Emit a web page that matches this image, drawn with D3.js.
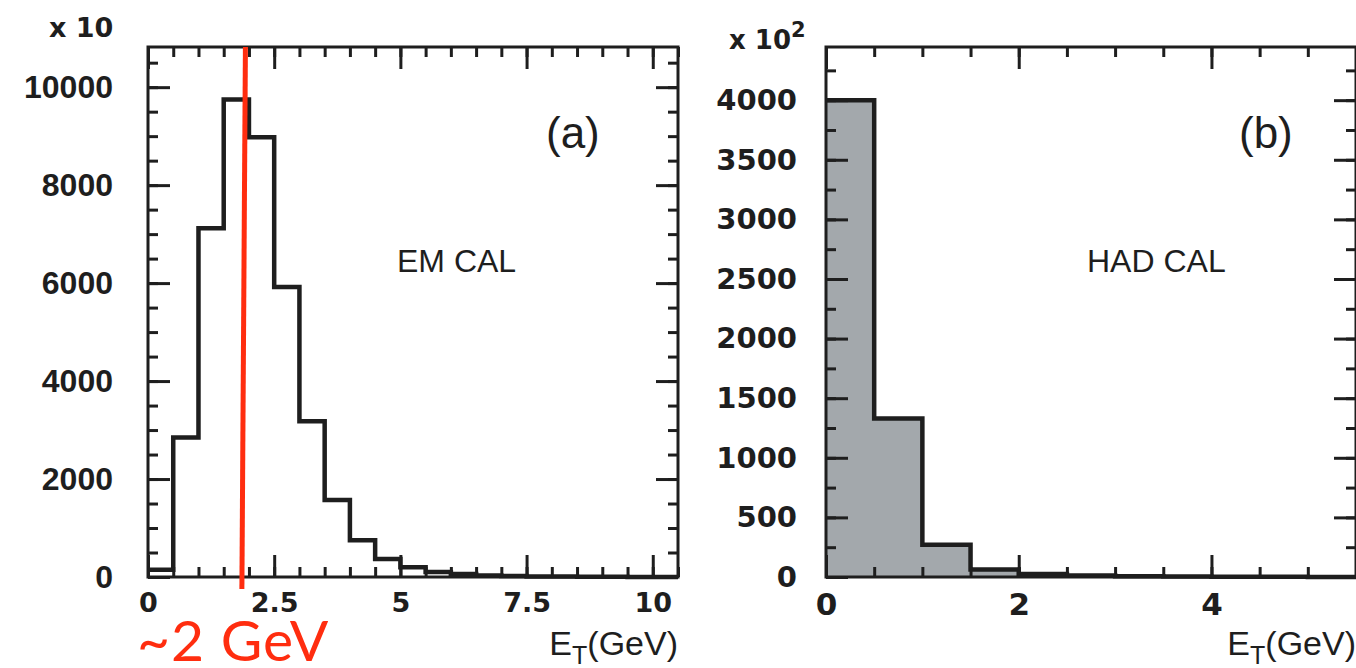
<!DOCTYPE html>
<html>
<head>
<meta charset="utf-8">
<script src="https://cdn.jsdelivr.net/npm/d3@7"></script>
<style>
  body { margin: 0; background: #fff; }
  svg { display: block; }
  .frame { fill: none; stroke: #1e1e1e; stroke-width: 3; }
  .tick line { stroke: #1e1e1e; stroke-width: 3; }
</style>
</head>
<body>
<script>
// bin width 0.5 GeV, counts
var emEdges = [0, 0.5, 1, 1.5, 2, 2.5, 3, 3.5, 4, 4.5, 5, 5.5, 6, 6.5, 7, 7.5, 8, 8.5, 9, 9.5, 10, 10.5];
var emCounts = [150, 2850, 7120, 9750, 8980, 5920, 3180, 1570, 750, 370, 200, 100, 60, 30, 20, 10, 8, 5, 4, 2, 1];

var hadEdges = [0, 0.5, 1, 1.5, 2, 2.5, 3, 3.5, 4, 4.5, 5, 5.5];
var hadCounts = [4000, 1330, 270, 62, 25, 12, 6, 4, 3, 2, 1];

var emYMajor = [0, 2000, 4000, 6000, 8000, 10000];
var emXMajor = [0, 2.5, 5, 7.5, 10];
var emXLabels = ["0", "2.5", "5", "7.5", "10"];
var hadYMajor = [0, 500, 1000, 1500, 2000, 2500, 3000, 3500, 4000];
var hadXMajor = [0, 2, 4];

var cutValue = [1.93, 1.86]; // red line, slightly tilted top -> bottom

var svg = d3.select("body").append("svg")
    .attr("width", 1356)
    .attr("height", 668);

function range(a, b, step) {
  var out = [];
  for (var v = a; v <= b + 1e-9; v += step) out.push(+v.toFixed(4));
  return out;
}

function drawPanel(p) {
  var x = d3.scaleLinear().domain(p.xDomain).range([p.left, p.right]);
  var y = d3.scaleLinear().domain(p.yDomain).range([p.bottom, p.top]);
  var g = svg.append("g");

  // histogram
  var pts = p.counts.map(function(c, i) { return [p.edges[i], c]; });
  pts.push([p.edges[p.edges.length - 1], p.counts[p.counts.length - 1]]);
  var step = d3.line()
    .x(function(d) { return x(d[0]); })
    .y(function(d) { return y(d[1]); })
    .curve(d3.curveStepAfter);

  if (p.fill) {
    var area = d3.area()
      .x(function(d) { return x(d[0]); })
      .y0(y(0))
      .y1(function(d) { return y(d[1]); })
      .curve(d3.curveStepAfter);
    g.append("path").attr("d", area(pts)).attr("fill", p.fill);
  }
  g.append("path")
    .attr("d", step(pts))
    .attr("fill", "none")
    .attr("stroke", "#1e1e1e")
    .attr("stroke-width", 4.5)
    .attr("stroke-linejoin", "miter");

  // ticks on all four sides, pointing inward
  var xMinor = range(p.xDomain[0], p.xDomain[1], p.xMinorStep);
  var yMinor = range(p.yDomain[0], p.yDomain[1], p.yMinorStep);

  function ticks(axisFn, scale, vals, len, tr) {
    var a = g.append("g").attr("transform", tr)
      .call(axisFn(scale).tickValues(vals).tickSize(-len).tickFormat(""));
    a.select(".domain").remove();
    return a;
  }
  var bt = "translate(0," + p.bottom + ")", tt = "translate(0," + p.top + ")";
  var lt = "translate(" + p.left + ",0)", rt = "translate(" + p.right + ",0)";
  ticks(d3.axisBottom, x, xMinor, 10, bt);
  ticks(d3.axisBottom, x, p.xMajor, 22, bt);
  ticks(d3.axisTop, x, xMinor, 10, tt);
  ticks(d3.axisTop, x, p.xMajor, 22, tt);
  ticks(d3.axisLeft, y, yMinor, 10, lt);
  ticks(d3.axisLeft, y, p.yMajor, 22, lt);
  ticks(d3.axisRight, y, yMinor, 10, rt);
  ticks(d3.axisRight, y, p.yMajor, 22, rt);

  g.append("rect").attr("class", "frame")
    .attr("x", p.left).attr("y", p.top)
    .attr("width", p.right - p.left).attr("height", p.bottom - p.top);

  // labels
  var yl = g.append("g").attr("transform", lt)
    .call(d3.axisLeft(y).tickValues(p.yMajor).tickSize(0).tickPadding(p.yPad)
      .tickFormat(d3.format("d")));
  yl.select(".domain").remove();
  yl.selectAll("text")
    .attr("font-family", p.yFont).attr("font-weight", "bold")
    .attr("font-size", p.yFontSize).attr("fill", "#1e1e1e");

  var xl = g.append("g").attr("transform", bt)
    .call(d3.axisBottom(x).tickValues(p.xMajor).tickSize(0).tickPadding(p.xPad)
      .tickFormat(function(d, i) { return p.xLabels ? p.xLabels[i] : String(d); }));
  xl.select(".domain").remove();
  xl.selectAll("text")
    .attr("font-family", "DejaVu Sans").attr("font-weight", "bold")
    .attr("font-size", p.xFontSize).attr("fill", "#1e1e1e");

  return {x: x, y: y, g: g};
}

var em = drawPanel({
  left: 148, right: 678, top: 47, bottom: 577,
  xDomain: [0, 10.5], yDomain: [0, 10820],
  edges: emEdges, counts: emCounts,
  xMajor: emXMajor, xLabels: emXLabels, xMinorStep: 0.5,
  yMajor: emYMajor, yMinorStep: 500,
  yPad: 35, yFont: "Liberation Sans", yFontSize: 32,
  xPad: 16, xFontSize: 27
});

var had = drawPanel({
  left: 826, right: 1356, top: 47, bottom: 577,
  xDomain: [0, 5.5], yDomain: [0, 4446],
  edges: hadEdges, counts: hadCounts, fill: "#a3a8ac",
  xMajor: hadXMajor, xMinorStep: 0.5,
  yMajor: hadYMajor, yMinorStep: 250,
  yPad: 29, yFont: "DejaVu Sans", yFontSize: 29,
  xPad: 16, xFontSize: 31
});

// red cut line
svg.append("line")
  .attr("x1", em.x(cutValue[0])).attr("y1", em.y(10820))
  .attr("x2", em.x(cutValue[1])).attr("y2", em.y(0) + 12)
  .attr("stroke", "#ff2d0f").attr("stroke-width", 5);

svg.append("text")
  .attr("x", 137).attr("y", 661)
  .attr("font-family", "Lato").attr("font-size", 57)
  .attr("letter-spacing", 1)
  .attr("fill", "#ff2d0f")
  .text("~2 GeV");

// multipliers
svg.append("text")
  .attr("x", 49).attr("y", 37)
  .attr("font-family", "DejaVu Sans").attr("font-weight", "bold")
  .attr("font-size", 27).attr("fill", "#1e1e1e")
  .text("x 10");

var mult = svg.append("text")
  .attr("x", 729).attr("y", 49)
  .attr("font-family", "DejaVu Sans").attr("font-weight", "bold")
  .attr("font-size", 26).attr("fill", "#1e1e1e")
  .text("x 10");
mult.append("tspan").attr("dy", -12).attr("font-size", 21).text("2");

// panel annotations
function note(txt, x, y, size) {
  svg.append("text").attr("x", x).attr("y", y)
    .attr("font-family", "Liberation Sans").attr("font-size", size)
    .attr("fill", "#1e1e1e").text(txt);
}
note("(a)", 546, 148, 44);
note("(b)", 1239, 148, 44);
note("EM CAL", 397, 272, 32);
note("HAD CAL", 1087, 272, 32);

function etLabel(xEnd) {
  var t = svg.append("text").attr("x", xEnd).attr("y", 655)
    .attr("text-anchor", "end")
    .attr("font-family", "Liberation Sans").attr("font-size", 34)
    .attr("fill", "#1e1e1e");
  t.append("tspan").text("E");
  t.append("tspan").attr("dy", 9).attr("font-size", 25).text("T");
  t.append("tspan").attr("dy", -9).text("(GeV)");
}
etLabel(678);
etLabel(1356);
</script>
</body>
</html>
